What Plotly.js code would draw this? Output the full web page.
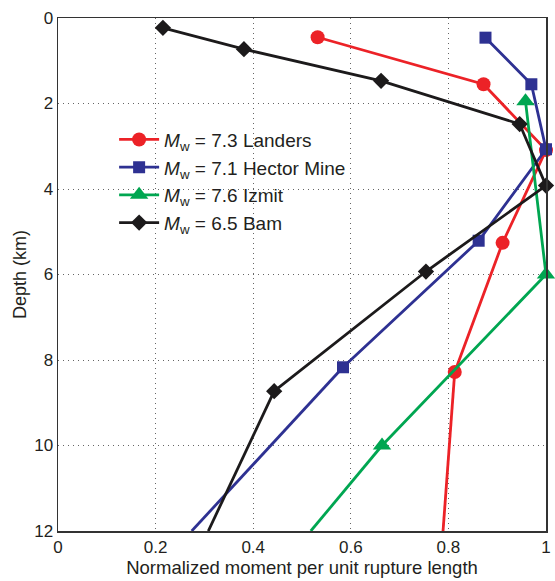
<!DOCTYPE html>
<html>
<head>
<meta charset="utf-8">
<script src="https://cdn.plot.ly/plotly-3.0.1.min.js"></script>
<style>body{margin:0;padding:0;background:#fff;} #chart{width:555px;height:581px;}</style>
</head>
<body>
<div id="chart"></div>
<script>
// Data (normalized moment per unit rupture length vs depth in km)
const landersX = [0.532, 0.872, 1.0, 0.911, 0.813];
const landersY = [0.45, 1.55, 3.09, 5.26, 8.28];
const landersTailX = [0.813, 0.789];
const landersTailY = [8.28, 12];
const hectorX = [0.876, 0.970, 1.0, 0.862, 0.584];
const hectorY = [0.46, 1.55, 3.07, 5.21, 8.17];
const hectorTailX = [0.584, 0.274];
const hectorTailY = [8.17, 12];
const izmitX = [0.958, 1.0, 0.664];
const izmitY = [1.95, 6.0, 10.0];
const izmitTailX = [0.664, 0.518];
const izmitTailY = [10.0, 12];
const bamX = [0.215, 0.381, 0.662, 0.946, 1.0, 0.754, 0.443];
const bamY = [0.23, 0.73, 1.47, 2.48, 3.92, 5.93, 8.73];
const bamTailX = [0.443, 0.308];
const bamTailY = [8.73, 12];
const names = [
  '<i>M</i><sub>w</sub> = 7.3 Landers',
  '<i>M</i><sub>w</sub> = 7.1 Hector Mine',
  '<i>M</i><sub>w</sub> = 7.6 Izmit',
  '<i>M</i><sub>w</sub> = 6.5 Bam'
];
const xTicks = [0, 0.2, 0.4, 0.6, 0.8, 1];
const xTickText = ['0', '0.2', '0.4', '0.6', '0.8', '1'];
const yTicks = [0, 2, 4, 6, 8, 10, 12];

const colors = ['#ec2227', '#2e3192', '#00a651', '#1c1a1b'];

function tail(x, y, c) {
  return {x: x, y: y, mode: 'lines', showlegend: false, hoverinfo: 'skip',
          line: {color: c, width: 2.8}};
}

const traces = [
  tail(landersTailX, landersTailY, colors[0]),
  tail(hectorTailX, hectorTailY, colors[1]),
  tail(izmitTailX, izmitTailY, colors[2]),
  tail(bamTailX, bamTailY, colors[3]),
  {x: landersX, y: landersY, name: names[0], legendgroup: 'a', mode: 'lines+markers', cliponaxis: false,
   line: {color: colors[0], width: 2.8}, marker: {symbol: 'circle', color: colors[0], size: 14, opacity: 1, line: {width: 0}}},
  {x: hectorX, y: hectorY, name: names[1], legendgroup: 'b', mode: 'lines+markers', cliponaxis: false,
   line: {color: colors[1], width: 2.8}, marker: {symbol: 'square', color: colors[1], size: 12, opacity: 1, line: {width: 0}}},
  {x: izmitX, y: izmitY, name: names[2], legendgroup: 'c', mode: 'lines+markers', cliponaxis: false,
   line: {color: colors[2], width: 2.8}, marker: {symbol: 'triangle-up', color: colors[2], size: 16, opacity: 1, line: {width: 0}}},
  {x: bamX, y: bamY, name: names[3], legendgroup: 'd', mode: 'lines+markers', cliponaxis: false,
   line: {color: colors[3], width: 2.8}, marker: {symbol: 'diamond', color: colors[3], size: 12.5, opacity: 1, line: {width: 0}}}
];

const layout = {
  width: 555, height: 581,
  margin: {l: 57.5, r: 8.5, t: 18, b: 50},
  paper_bgcolor: '#fff', plot_bgcolor: '#fff',
  font: {family: 'Liberation Sans, Arial, sans-serif', size: 17, color: '#231f20'},
  showlegend: true,
  legend: {x: 0.115, y: 0.8, xanchor: 'left', yanchor: 'top', bgcolor: 'rgba(0,0,0,0)',
           font: {size: 19}, tracegroupgap: 6, itemwidth: 40, traceorder: 'normal'},
  xaxis: {range: [0, 1], tickvals: xTicks, ticktext: xTickText, showgrid: true,
          gridcolor: '#666', griddash: '1px,4px', gridwidth: 1, zeroline: false,
          showline: true, linecolor: '#333', linewidth: 1.5, mirror: true,
          ticks: '', ticklen: 0, tickfont: {size: 17},
          title: {text: 'Normalized moment per unit rupture length', standoff: 4, font: {size: 18.5}}},
  yaxis: {range: [12, 0], tickvals: yTicks, showgrid: true,
          gridcolor: '#666', griddash: '1px,4px', gridwidth: 1, zeroline: false,
          showline: true, linecolor: '#333', linewidth: 1.5, mirror: true,
          ticks: '', ticklen: 0, tickfont: {size: 17},
          title: {text: 'Depth (km)', standoff: 3, font: {size: 18}}}
};

Plotly.newPlot('chart', traces, layout, {displayModeBar: false, staticPlot: true});
</script>
</body>
</html>
